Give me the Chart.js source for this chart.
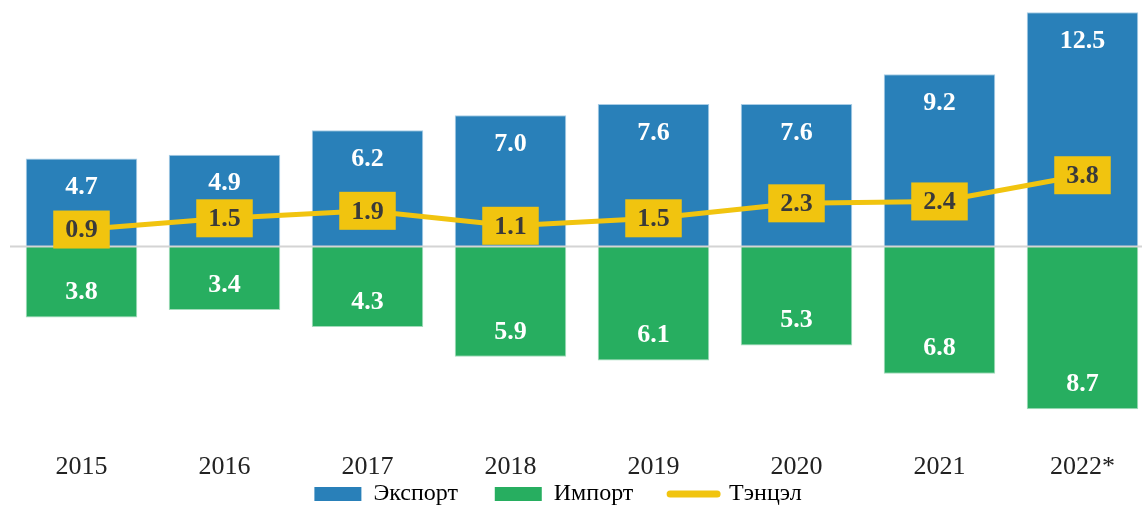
<!DOCTYPE html>
<html>
<head>
<meta charset="utf-8">
<script src="https://cdn.jsdelivr.net/npm/chart.js@4/dist/chart.umd.min.js"></script>
<style>
  html,body{margin:0;padding:0;background:#fff;overflow:hidden;}
  #wrap{width:1176px;height:506px;}
</style>
</head>
<body>
<div id="wrap"><canvas id="chart" width="1176" height="506"></canvas></div>
<script>
const years = ['2015','2016','2017','2018','2019','2020','2021','2022*'];
const exportVals = [4.7, 4.9, 6.2, 7.0, 7.6, 7.6, 9.2, 12.5];
const importVals = [3.8, 3.4, 4.3, 5.9, 6.1, 5.3, 6.8, 8.7];
const balanceVals = [0.9, 1.5, 1.9, 1.1, 1.5, 2.3, 2.4, 3.8];
const seriesNames = ['Экспорт', 'Импорт', 'Тэнцэл'];

const BLUE = '#2980b9', GREEN = '#27ae60', YELLOW = '#f1c40f';
const SERIF = '"Liberation Serif", "Times New Roman", serif';

// zero line, drawn over the bars but under the balance boxes
const zeroLine = {
  id:'zeroLine',
  afterDatasetsDraw(chart){
    const {ctx, chartArea} = chart;
    const y = chart.scales.y.getPixelForValue(0);
    ctx.save();
    ctx.strokeStyle = '#d4d4d4';
    ctx.lineWidth = 2;
    ctx.beginPath();
    ctx.moveTo(chartArea.left, y);
    ctx.lineTo(chartArea.right, y);
    ctx.stroke();
    ctx.restore();
  }
};

// value labels: white inside bars, yellow boxes on the balance line
const valueLabels = {
  id:'valueLabels',
  afterDatasetsDraw(chart){
    const {ctx} = chart;
    ctx.save();
    ctx.textAlign = 'center';
    ctx.textBaseline = 'middle';
    ctx.font = 'bold 26px ' + SERIF;
    ctx.fillStyle = '#fff';
    chart.getDatasetMeta(0).data.forEach((bar,i)=>{
      ctx.fillText(exportVals[i].toFixed(1), bar.x, bar.y + 29);
    });
    chart.getDatasetMeta(1).data.forEach((bar,i)=>{
      ctx.fillText(importVals[i].toFixed(1), bar.x, bar.y - 25);
    });
    chart.getDatasetMeta(2).data.forEach((pt,i)=>{
      const txt = balanceVals[i].toFixed(1);
      const w = ctx.measureText(txt).width + 24, h = 38;
      ctx.fillStyle = YELLOW;
      ctx.fillRect(pt.x - w/2, pt.y - h/2, w, h);
      ctx.fillStyle = '#3a3a3a';
      ctx.fillText(txt, pt.x, pt.y + 1);
    });
    ctx.restore();
  }
};

new Chart(document.getElementById('chart'), {
  data:{
    labels: years,
    datasets:[
      { type:'bar', label: seriesNames[0], data: exportVals, backgroundColor: BLUE, grouped:false, order:2,
        borderColor:'#a9cde6', borderWidth:1, barPercentage:0.78, categoryPercentage:1 },
      { type:'bar', label: seriesNames[1], data: importVals.map(v=>-v), backgroundColor: GREEN, grouped:false, order:2,
        borderColor:'#a3dcbb', borderWidth:1, barPercentage:0.78, categoryPercentage:1 },
      { type:'line', label: seriesNames[2], data: balanceVals, borderColor: YELLOW, backgroundColor: YELLOW,
        borderWidth:5, pointRadius:0, tension:0, order:1 }
    ]
  },
  options:{
    responsive:false,
    animation:false,
    layout:{ padding:{ left:10, right:22, top:3, bottom:-10 } },
    scales:{
      x:{
        grid:{ display:false, drawTicks:false },
        border:{ display:false },
        ticks:{ color:'#222', padding:0, font:{ family:SERIF, size:26, lineHeight:1 } }
      },
      y:{
        display:false,
        min:-11.09, max:13
      }
    },
    plugins:{
      tooltip:{ enabled:false },
      legend:{
        position:'bottom',
        labels:{
          color:'#222',
          font:{ family:SERIF, size:24, lineHeight:1 },
          padding:2,
          boxHeight:14,
          usePointStyle:true,
          pointStyleWidth:47,
          generateLabels(chart){
            // trailing spaces widen the gaps between entries and shift the row left
            return chart.data.datasets.map((ds,i)=>({
              text: ds.label + (i < 2 ? '\u2003 \u2009' : '\u2003\u2003'),
              fillStyle: ds.type==='line' ? 'transparent' : ds.backgroundColor,
              strokeStyle: ds.type==='line' ? YELLOW : 'transparent',
              lineWidth: ds.type==='line' ? 7 : 0,
              lineCap: 'round',
              pointStyle: ds.type==='line' ? 'line' : 'rect',
              datasetIndex: i
            }));
          }
        }
      }
    }
  },
  plugins:[zeroLine, valueLabels]
});
</script>
</body>
</html>
